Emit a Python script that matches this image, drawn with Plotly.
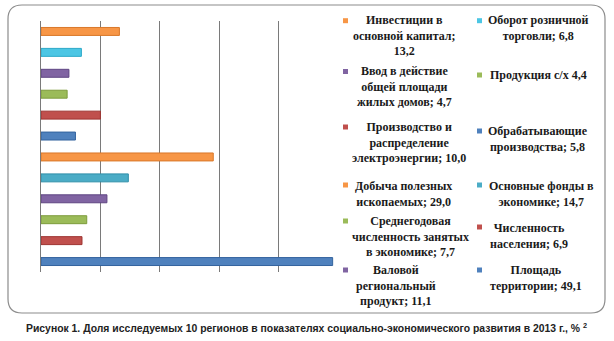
import plotly.graph_objects as go

# ---- data (top to bottom) ----
categories = [
    "Инвестиции в основной капитал",
    "Оборот розничной торговли",
    "Ввод в действие общей площади жилых домов",
    "Продукция с/х",
    "Производство и распределение электроэнергии",
    "Обрабатывающие производства",
    "Добыча полезных ископаемых",
    "Основные фонды в экономике",
    "Валовой региональный продукт",
    "Среднегодовая численность занятых в экономике",
    "Численность населения",
    "Площадь территории",
]
values = [13.2, 6.8, 4.7, 4.4, 10.0, 5.8, 29.0, 14.7, 11.1, 7.7, 6.9, 49.1]
bar_colors = ["#F79646", "#4CC6E4", "#8064A2", "#9BBB59", "#C0504D", "#4F81BD",
              "#F79646", "#4BACC6", "#8064A2", "#9BBB59", "#C0504D", "#4F81BD"]
line_colors = ["#D9782A", "#2AA8C8", "#5E4582", "#7D9C3C", "#9E3330", "#33639E",
               "#D9782A", "#2E8EA8", "#5E4582", "#7D9C3C", "#9E3330", "#33639E"]

# legend labels (two columns, as in the picture)
legend_col1 = [
    ("Инвестиции в<br>основной капитал;<br>13,2", "#F79646"),
    ("Ввод в действие<br>общей площади<br>жилых домов; 4,7", "#8064A2"),
    ("Производство и<br>распределение<br>электроэнергии; 10,0", "#C0504D"),
    ("Добыча полезных<br>ископаемых; 29,0", "#F79646"),
    ("Среднегодовая<br>численность занятых<br>в экономике; 7,7", "#9BBB59"),
    ("Валовой<br>региональный<br>продукт; 11,1", "#8064A2"),
]
legend_col2 = [
    ("Оборот розничной<br>торговли; 6,8", "#4CC6E4"),
    ("Продукция с/х 4,4", "#9BBB59"),
    ("Обрабатывающие<br>производства; 5,8", "#4F81BD"),
    ("Основные фонды в<br>экономике; 14,7", "#4BACC6"),
    ("Численность<br>населения; 6,9", "#C0504D"),
    ("Площадь<br>территории; 49,1", "#4F81BD"),
]
caption = "Рисунок 1. Доля исследуемых 10 регионов в показателях социально-экономического развития в 2013 г., % <sup>2</sup>"

# ---- layout geometry (pixels) ----
W, H = 614, 341
L, R, T, B = 41, 338, 21, 272


def px(x):
    return (x - L) / (R - L)


def py(y):
    return (B - y) / (B - T)


fig = go.Figure()
fig.add_trace(go.Bar(
    x=values, y=categories, orientation="h",
    marker=dict(color=bar_colors, line=dict(color=line_colors, width=1)),
    width=0.38, showlegend=False,
))

shapes = []
# rounded frame
x0, y0, x1, y1, r = 8, 5, 605, 313, 14
path = (f"M {px(x0+r)},{py(y0)} L {px(x1-r)},{py(y0)} "
        f"Q {px(x1)},{py(y0)} {px(x1)},{py(y0+r)} "
        f"L {px(x1)},{py(y1-r)} Q {px(x1)},{py(y1)} {px(x1-r)},{py(y1)} "
        f"L {px(x0+r)},{py(y1)} Q {px(x0)},{py(y1)} {px(x0)},{py(y1-r)} "
        f"L {px(x0)},{py(y0+r)} Q {px(x0)},{py(y0)} {px(x0+r)},{py(y0)} Z")
shapes.append(dict(type="path", xref="paper", yref="paper", path=path,
                   line=dict(color="#8C8C8C", width=1.2), layer="below"))

annotations = []
col1_pos = [(404, 35.5, 20.7), (404, 86, 71.5), (409, 142, 127),
            (403, 194, 185), (410, 236.5, 221), (396, 285, 270)]
col2_pos = [(538, 28.5, 20.7), (538, 75, 75), (538, 138.5, 131),
            (541, 194, 185), (529, 236, 227), (536, 277.5, 270)]

LEG_FONT = dict(family="Liberation Serif, Times New Roman, serif", size=12,
                color="#1a1a1a", weight="bold")

for (txt, col), (cx, cy, my) in zip(legend_col1, col1_pos):
    annotations.append(dict(x=px(cx), y=py(cy), xref="paper", yref="paper",
                            text=txt, showarrow=False, align="center",
                            xanchor="center", yanchor="middle", font=LEG_FONT))
    shapes.append(dict(type="rect", xref="paper", yref="paper",
                       x0=px(343), x1=px(348), y0=py(my + 2.5), y1=py(my - 2.5),
                       fillcolor=col, line=dict(width=0)))
for (txt, col), (cx, cy, my) in zip(legend_col2, col2_pos):
    annotations.append(dict(x=px(cx), y=py(cy), xref="paper", yref="paper",
                            text=txt, showarrow=False, align="center",
                            xanchor="center", yanchor="middle", font=LEG_FONT))
    shapes.append(dict(type="rect", xref="paper", yref="paper",
                       x0=px(477), x1=px(482), y0=py(my + 2.5), y1=py(my - 2.5),
                       fillcolor=col, line=dict(width=0)))

annotations.append(dict(x=px(306), y=py(327), xref="paper", yref="paper",
                        text=caption, showarrow=False,
                        xanchor="center", yanchor="middle",
                        font=dict(family="Liberation Sans, Arial, sans-serif", size=10.4,
                                  color="#222", weight="bold")))

fig.update_layout(
    width=W, height=H,
    margin=dict(l=L, r=W - R, t=T, b=H - B, pad=0),
    paper_bgcolor="white", plot_bgcolor="white",
    xaxis=dict(range=[0, 50], dtick=10, showgrid=True, gridcolor="#7A7A7A",
               gridwidth=1, showticklabels=False, zeroline=False,
               showline=False, ticks=""),
    yaxis=dict(autorange=False, range=[11.5, -0.5], showticklabels=False,
               showgrid=False, zeroline=False, showline=True,
               linecolor="#7A7A7A", linewidth=1, ticks=""),
    shapes=shapes, annotations=annotations, bargap=0.6,
)

fig.write_html("out.html")
